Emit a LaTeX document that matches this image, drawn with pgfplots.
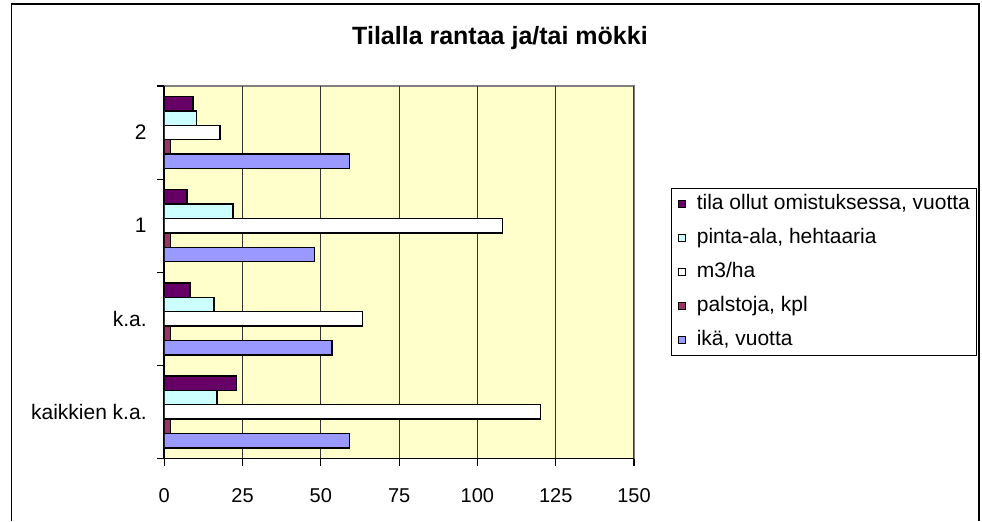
\documentclass[border=0pt]{standalone}
\usepackage{fontspec}
\setmainfont{Liberation Sans}
\usepackage{pgfplots}
\pgfplotsset{compat=1.18}

\definecolor{plotbg}{HTML}{FFFFCC}
\definecolor{cika}{HTML}{9999FF}
\definecolor{cpal}{HTML}{993366}
\definecolor{cm3}{HTML}{FFFFFF}
\definecolor{cpinta}{HTML}{CCFFFF}
\definecolor{ctila}{HTML}{660066}

\begin{document}
\begin{tikzpicture}
% page: 982 x 521 px at 0.5pt per px
\path[use as bounding box] (0,0) rectangle (491pt,260.5pt);
\draw[line width=0.9pt] (5.7pt,0) -- (5.7pt,258.5pt) -- (489.5pt,258.5pt) -- (489.5pt,0);
\node[font=\fontsize{12.5}{14}\selectfont\bfseries] at (250pt,241.5pt) {Tilalla rantaa ja/tai mökki};

\begin{axis}[
  at={(82.15pt,31.25pt)}, anchor=south west,
  scale only axis,
  width=234.85pt, height=186.25pt,
  xbar, bar width=7.2pt,
  xmin=0, xmax=150,
  ymin=-0.5, ymax=3.5,
  xtick={0,25,50,75,100,125,150},
  ytick={-0.5,0.5,1.5,2.5,3.5},
  yticklabels={},
  extra y ticks={0,1,2,3},
  extra y tick labels={kaikkien k.a.,k.a.,1,2},
  extra y tick style={major tick length=0pt, yticklabel style={xshift=-5.3pt}},
  tick align=outside,
  major tick length=3.5pt,
  tick style={black, line width=0.6pt},
  xmajorgrids=true,
  major grid style={black!80, line width=0.5pt},
  axis x line*=bottom, axis y line*=left,
  axis line style={black, line width=0.8pt},
  axis background/.style={fill=plotbg, draw=black!50, line width=0.6pt},
  /pgf/number format/assume math mode=true,
  xticklabel style={font=\fontsize{10}{12}\selectfont, yshift=-8.2pt},
  yticklabel style={font=\fontsize{10.5}{12}\selectfont},
  legend style={at={(rel axis cs:1.078,0.726)}, anchor=north west,
    draw=black, line width=0.6pt, fill=white,
    font=\fontsize{10.5}{12}\selectfont,
    inner xsep=3.3pt, inner ysep=3pt, row sep=7.5pt, column sep=5.2pt,
    nodes={inner sep=0pt, text height=7.5pt, text depth=2pt}},
  legend cell align=left,
  legend image code/.code={\draw[#1, draw=black, line width=0.5pt] (0pt,-1.9pt) rectangle (3.8pt,1.9pt);},
  every axis plot/.append style={draw=black, line width=0.7pt},
]
\addplot[fill=ctila, bar shift=14.4pt] coordinates {(23.1,0) (8.2,1) (7.2,2) (9.2,3)};
\addlegendentry{tila ollut omistuksessa, vuotta}
\addplot[fill=cpinta, bar shift=7.2pt] coordinates {(16.8,0) (15.9,1) (21.9,2) (10.2,3)};
\addlegendentry{pinta-ala, hehtaaria}
\addplot[fill=cm3, bar shift=0pt] coordinates {(120.2,0) (63.3,1) (108.0,2) (17.8,3)};
\addlegendentry{m3/ha}
\addplot[fill=cpal, bar shift=-7.2pt] coordinates {(2.0,0) (2.0,1) (2.0,2) (2.0,3)};
\addlegendentry{palstoja, kpl}
\addplot[fill=cika, bar shift=-14.4pt] coordinates {(59.1,0) (53.5,1) (47.9,2) (59.1,3)};
\addlegendentry{ikä, vuotta}
\end{axis}
\end{tikzpicture}
\end{document}
